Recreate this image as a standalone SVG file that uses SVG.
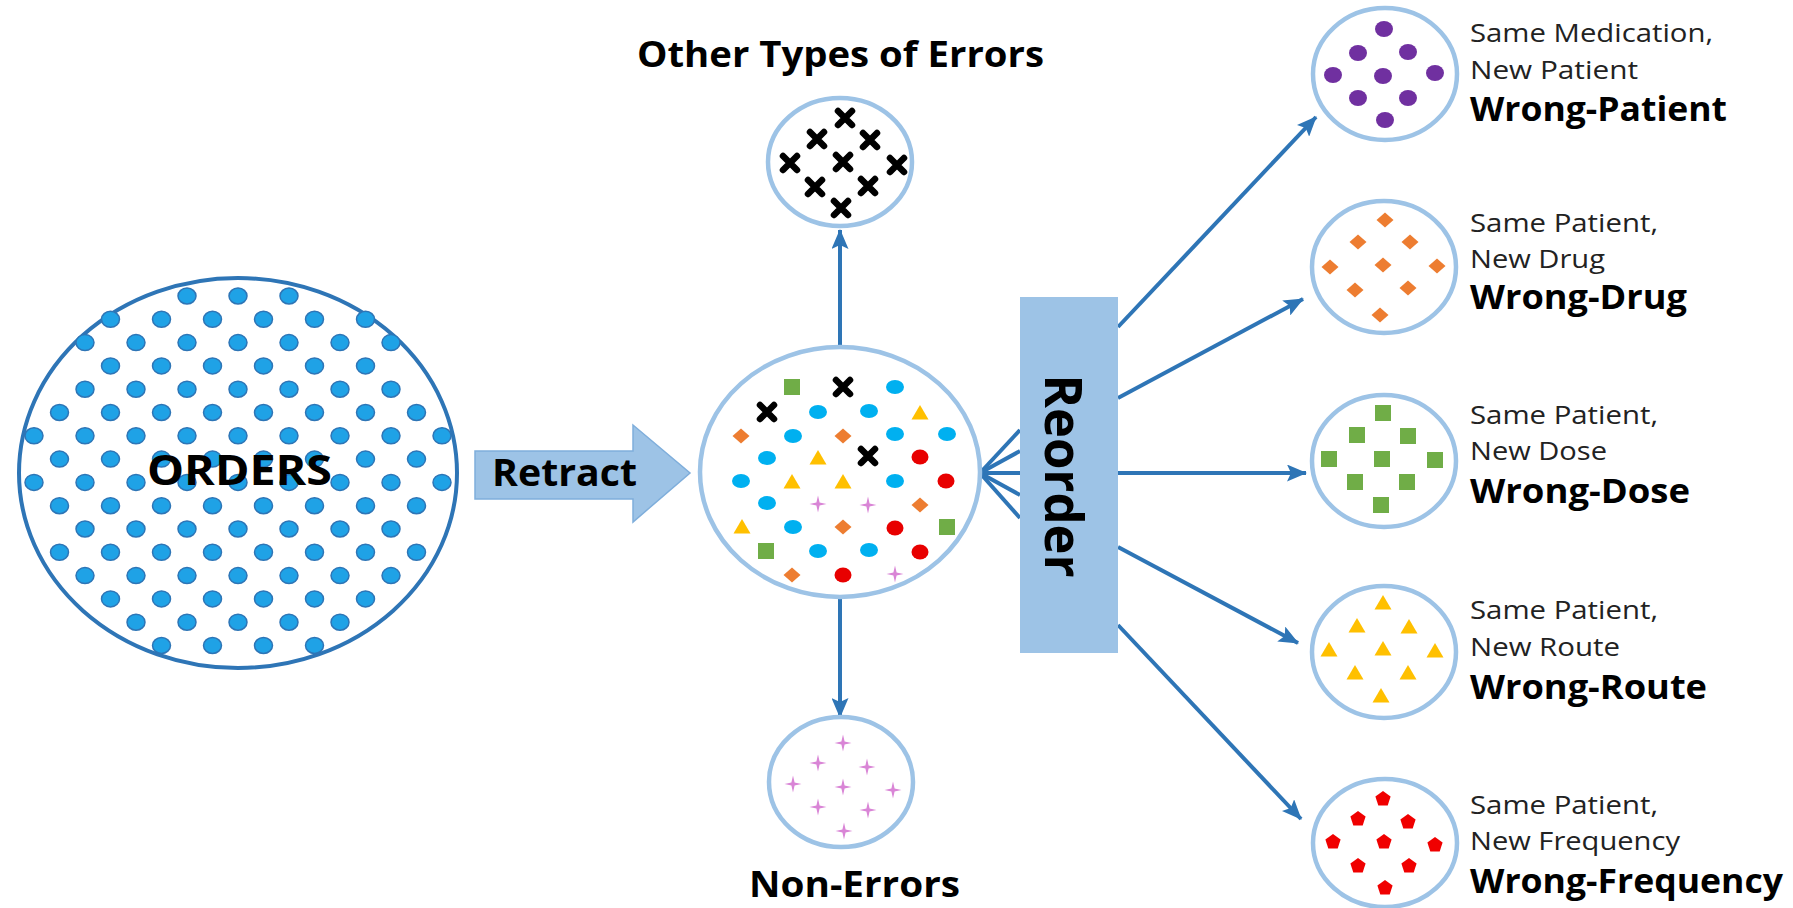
<svg xmlns="http://www.w3.org/2000/svg" width="1793" height="908" viewBox="0 0 1793 908">
<style>
.bold{font-family:"Open Sans","Liberation Sans",sans-serif;font-weight:bold;fill:#000}
.reg{font-family:"Open Sans","Liberation Sans",sans-serif;fill:#222;font-size:26px}
.lbl{font-size:34px}
.ring{fill:#fff;stroke:#9DC3E6;stroke-width:4.5}
.conn{stroke:#2E75B6;stroke-width:4;fill:none}
</style>
<defs>
<marker id="ah" viewBox="0 0 20 17" refX="19" refY="8.5" markerWidth="20" markerHeight="17" markerUnits="userSpaceOnUse" orient="auto">
<path d="M0,0 L20,8.5 L0,17 L4,8.5 Z" fill="#2E75B6"/>
</marker>
<ellipse id="bd" rx="9" ry="8" fill="#1FA2E6" stroke="#2E75B6" stroke-width="1.5"/>
<ellipse id="cy" rx="9" ry="7" fill="#00B0F0"/>
<ellipse id="rd" rx="8.5" ry="7.5" fill="#E80000"/>
<ellipse id="pu" rx="9" ry="8" fill="#7030A0"/>
<path id="xm" d="M-7,-7L7,7M-7,7L7,-7" stroke="#000" stroke-width="6.5" stroke-linecap="round"/>
<polygon id="dm" points="0,-7.5 8.5,0 0,7.5 -8.5,0" fill="#ED7D31"/>
<polygon id="tr" points="0,-8 8.5,6.5 -8.5,6.5" fill="#FFC000"/>
<rect id="sq" x="-8" y="-8" width="16" height="16" fill="#70AD47"/>
<path id="pl" d="M0,-8.5L1.6,-1.6L8.5,0L1.6,1.6L0,8.5L-1.6,1.6L-8.5,0L-1.6,-1.6Z" fill="#D985D6"/>
<polygon id="pg" points="0,-8 7.6,-2.5 4.7,6.5 -4.7,6.5 -7.6,-2.5" fill="#F00000"/>
<g id="e3"><use href="#bd" x="187"/><use href="#bd" x="238"/><use href="#bd" x="289"/></g>
<g id="e5"><use href="#bd" x="136"/><use href="#e3"/><use href="#bd" x="340"/></g>
<g id="e7"><use href="#bd" x="85"/><use href="#e5"/><use href="#bd" x="391"/></g>
<g id="e9"><use href="#bd" x="34"/><use href="#e7"/><use href="#bd" x="442"/></g>
<g id="o4"><use href="#bd" x="161.5"/><use href="#bd" x="212.5"/><use href="#bd" x="263.5"/><use href="#bd" x="314.5"/></g>
<g id="o6"><use href="#bd" x="110.5"/><use href="#o4"/><use href="#bd" x="365.5"/></g>
<g id="o8"><use href="#bd" x="59.5"/><use href="#o6"/><use href="#bd" x="416.5"/></g>
</defs>
<rect width="1793" height="908" fill="#fff"/>

<g id="connectors">
<line class="conn" x1="840" y1="347" x2="840" y2="230" marker-end="url(#ah)"/>
<line class="conn" x1="840" y1="598" x2="840" y2="717" marker-end="url(#ah)"/>
<line class="conn" x1="980" y1="473" x2="1020" y2="430"/>
<line class="conn" x1="980" y1="473" x2="1020" y2="451"/>
<line class="conn" x1="980" y1="473" x2="1020" y2="473"/>
<line class="conn" x1="980" y1="473" x2="1020" y2="495"/>
<line class="conn" x1="980" y1="473" x2="1020" y2="518"/>
<line class="conn" x1="1118" y1="327" x2="1316" y2="117" marker-end="url(#ah)"/>
<line class="conn" x1="1118" y1="398" x2="1303" y2="299" marker-end="url(#ah)"/>
<line class="conn" x1="1118" y1="473" x2="1306" y2="473" marker-end="url(#ah)"/>
<line class="conn" x1="1118" y1="547" x2="1298" y2="643" marker-end="url(#ah)"/>
<line class="conn" x1="1118" y1="625" x2="1301" y2="819" marker-end="url(#ah)"/>
</g>

<g id="orders">
<ellipse cx="238" cy="473" rx="219" ry="195" fill="#fff" stroke="#2E75B6" stroke-width="4"/>
<use href="#e3" y="296"/>
<use href="#o6" y="319.3"/>
<use href="#e7" y="342.6"/>
<use href="#o6" y="365.9"/>
<use href="#e7" y="389.2"/>
<use href="#o8" y="412.5"/>
<use href="#e9" y="435.8"/>
<use href="#o8" y="459.1"/>
<use href="#e9" y="482.4"/>
<use href="#o8" y="505.7"/>
<use href="#e7" y="529"/>
<use href="#o8" y="552.3"/>
<use href="#e7" y="575.6"/>
<use href="#o6" y="598.9"/>
<use href="#e5" y="622.2"/>
<use href="#o4" y="645.5"/>
<text class="bold" x="147" y="485" font-size="41" textLength="185" lengthAdjust="spacingAndGlyphs">ORDERS</text>
</g>

<g id="retract">
<polygon points="475,451 633,451 633,425 690,473 633,522 633,499 475,499" fill="#9DC3E6" stroke="#7FAEDB" stroke-width="1.5"/>
<text class="bold" x="492" y="486" font-size="38" textLength="145" lengthAdjust="spacingAndGlyphs">Retract</text>
</g>

<g id="mixed">
<ellipse class="ring" cx="840" cy="472" rx="140" ry="125"/>
<use href="#sq" x="792" y="387"/><use href="#sq" x="947" y="527"/><use href="#sq" x="766" y="551"/>
<use href="#xm" x="843" y="387"/><use href="#xm" x="767" y="412"/><use href="#xm" x="868" y="456"/>
<use href="#cy" x="895" y="387"/><use href="#cy" x="818" y="412"/><use href="#cy" x="869" y="411"/>
<use href="#cy" x="793" y="436"/><use href="#cy" x="895" y="434"/><use href="#cy" x="947" y="434"/>
<use href="#cy" x="767" y="458"/><use href="#cy" x="741" y="481"/><use href="#cy" x="895" y="481"/>
<use href="#cy" x="767" y="503"/><use href="#cy" x="793" y="527"/><use href="#cy" x="818" y="551"/>
<use href="#cy" x="869" y="550"/>
<use href="#tr" x="920" y="413"/><use href="#tr" x="818" y="458"/><use href="#tr" x="792" y="482"/>
<use href="#tr" x="843" y="482"/><use href="#tr" x="742" y="527"/>
<use href="#dm" x="741" y="436"/><use href="#dm" x="843" y="436"/><use href="#dm" x="920" y="505"/>
<use href="#dm" x="843" y="527"/><use href="#dm" x="792" y="575"/>
<use href="#rd" x="920" y="457"/><use href="#rd" x="946" y="481"/><use href="#rd" x="895" y="528"/>
<use href="#rd" x="920" y="552"/><use href="#rd" x="843" y="575"/>
<use href="#pl" x="818" y="504"/><use href="#pl" x="868" y="505"/><use href="#pl" x="895" y="574"/>
</g>

<g id="other">
<text class="bold" x="637" y="67" font-size="35" textLength="407" lengthAdjust="spacingAndGlyphs">Other Types of Errors</text>
<ellipse class="ring" cx="840" cy="162" rx="72" ry="64"/>
<use href="#xm" x="845" y="118"/><use href="#xm" x="817" y="139"/><use href="#xm" x="870" y="140"/>
<use href="#xm" x="790" y="163"/><use href="#xm" x="843" y="162"/><use href="#xm" x="897" y="165"/>
<use href="#xm" x="815" y="187"/><use href="#xm" x="868" y="186"/><use href="#xm" x="841" y="208"/>
</g>

<g id="nonerrors">
<ellipse class="ring" cx="841" cy="782" rx="72" ry="65"/>
<use href="#pl" x="843" y="743"/><use href="#pl" x="818" y="763"/><use href="#pl" x="867" y="767"/>
<use href="#pl" x="793" y="784"/><use href="#pl" x="843" y="787"/><use href="#pl" x="893" y="790"/>
<use href="#pl" x="818" y="807"/><use href="#pl" x="868" y="810"/><use href="#pl" x="844" y="831"/>
<text class="bold" x="749" y="897" font-size="35" textLength="211" lengthAdjust="spacingAndGlyphs">Non-Errors</text>
</g>

<g id="reorder">
<rect x="1020" y="297" width="98" height="356" fill="#9DC3E6"/>
<text class="bold" transform="translate(1045,476) rotate(90)" x="0" y="0" font-size="52" text-anchor="middle" textLength="203" lengthAdjust="spacingAndGlyphs">Reorder</text>
</g>

<g id="wrong-patient">
<ellipse class="ring" cx="1385" cy="74" rx="72" ry="66"/>
<use href="#pu" x="1384" y="29"/><use href="#pu" x="1358" y="53"/><use href="#pu" x="1408" y="52"/>
<use href="#pu" x="1333" y="75"/><use href="#pu" x="1383" y="76"/><use href="#pu" x="1435" y="73"/>
<use href="#pu" x="1358" y="98"/><use href="#pu" x="1408" y="98"/><use href="#pu" x="1385" y="120"/>
<text class="reg" x="1470" y="42" textLength="243" lengthAdjust="spacingAndGlyphs">Same Medication,</text>
<text class="reg" x="1470" y="79" textLength="168" lengthAdjust="spacingAndGlyphs">New Patient</text>
<text class="bold lbl" x="1470" y="121" textLength="257" lengthAdjust="spacingAndGlyphs">Wrong-Patient</text>
</g>

<g id="wrong-drug">
<ellipse class="ring" cx="1384" cy="267" rx="72" ry="66"/>
<use href="#dm" x="1385" y="220"/><use href="#dm" x="1358" y="242"/><use href="#dm" x="1410" y="242"/>
<use href="#dm" x="1330" y="267"/><use href="#dm" x="1383" y="265"/><use href="#dm" x="1437" y="266"/>
<use href="#dm" x="1355" y="290"/><use href="#dm" x="1408" y="288"/><use href="#dm" x="1380" y="315"/>
<text class="reg" x="1470" y="232" textLength="188" lengthAdjust="spacingAndGlyphs">Same Patient,</text>
<text class="reg" x="1470" y="268" textLength="135" lengthAdjust="spacingAndGlyphs">New Drug</text>
<text class="bold lbl" x="1470" y="309" textLength="217" lengthAdjust="spacingAndGlyphs">Wrong-Drug</text>
</g>

<g id="wrong-dose">
<ellipse class="ring" cx="1384" cy="461" rx="72" ry="66"/>
<use href="#sq" x="1383" y="413"/><use href="#sq" x="1357" y="435"/><use href="#sq" x="1408" y="436"/>
<use href="#sq" x="1329" y="459"/><use href="#sq" x="1382" y="459"/><use href="#sq" x="1435" y="460"/>
<use href="#sq" x="1355" y="482"/><use href="#sq" x="1407" y="482"/><use href="#sq" x="1381" y="505"/>
<text class="reg" x="1470" y="424" textLength="188" lengthAdjust="spacingAndGlyphs">Same Patient,</text>
<text class="reg" x="1470" y="460" textLength="137" lengthAdjust="spacingAndGlyphs">New Dose</text>
<text class="bold lbl" x="1470" y="503" textLength="220" lengthAdjust="spacingAndGlyphs">Wrong-Dose</text>
</g>

<g id="wrong-route">
<ellipse class="ring" cx="1384" cy="652" rx="72" ry="66"/>
<use href="#tr" x="1383" y="603"/><use href="#tr" x="1357" y="626"/><use href="#tr" x="1409" y="627"/>
<use href="#tr" x="1329" y="650"/><use href="#tr" x="1383" y="649"/><use href="#tr" x="1435" y="651"/>
<use href="#tr" x="1355" y="673"/><use href="#tr" x="1408" y="673"/><use href="#tr" x="1381" y="696"/>
<text class="reg" x="1470" y="619" textLength="188" lengthAdjust="spacingAndGlyphs">Same Patient,</text>
<text class="reg" x="1470" y="656" textLength="150" lengthAdjust="spacingAndGlyphs">New Route</text>
<text class="bold lbl" x="1470" y="699" textLength="237" lengthAdjust="spacingAndGlyphs">Wrong-Route</text>
</g>

<g id="wrong-frequency">
<ellipse class="ring" cx="1385" cy="843" rx="72" ry="64"/>
<use href="#pg" x="1383" y="799"/><use href="#pg" x="1358" y="819"/><use href="#pg" x="1408" y="822"/>
<use href="#pg" x="1333" y="842"/><use href="#pg" x="1384" y="842"/><use href="#pg" x="1435" y="845"/>
<use href="#pg" x="1358" y="866"/><use href="#pg" x="1409" y="866"/><use href="#pg" x="1385" y="888"/>
<text class="reg" x="1470" y="814" textLength="188" lengthAdjust="spacingAndGlyphs">Same Patient,</text>
<text class="reg" x="1470" y="850" textLength="210" lengthAdjust="spacingAndGlyphs">New Frequency</text>
<text class="bold lbl" x="1470" y="893" textLength="313" lengthAdjust="spacingAndGlyphs">Wrong-Frequency</text>
</g>
</svg>
